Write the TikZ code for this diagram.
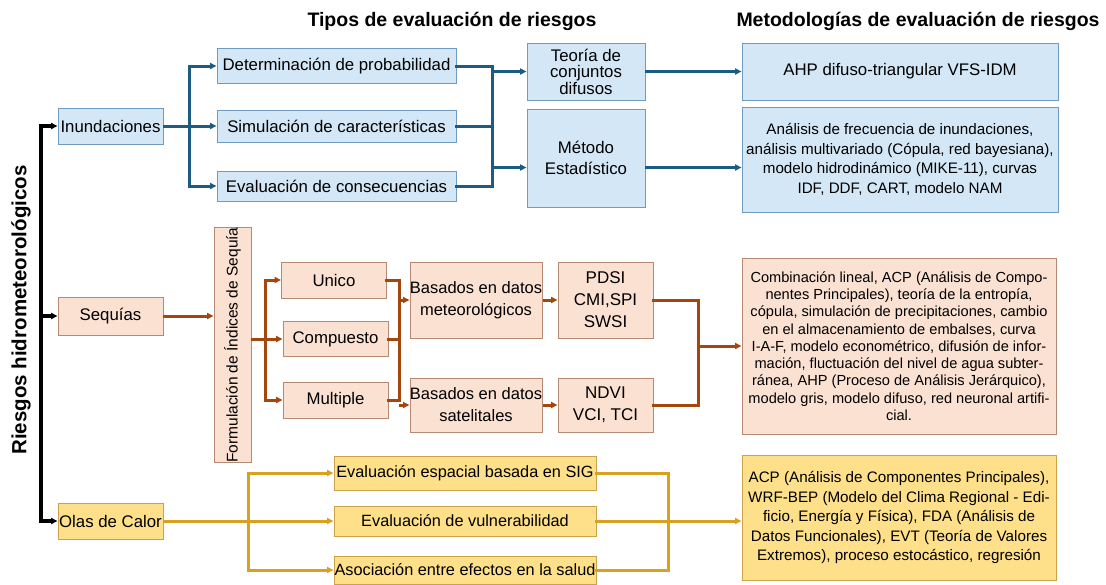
\documentclass[tikz,border=0pt]{standalone}
\usepackage{fontspec}
\setmainfont{Liberation Sans}
\usetikzlibrary{arrows.meta,positioning}
\definecolor{floodfill}{HTML}{D4E7F6}
\definecolor{floodedge}{HTML}{6F9BC0}
\definecolor{floodline}{HTML}{1D5A84}
\definecolor{droughtfill}{HTML}{FBE1D2}
\definecolor{droughtedge}{HTML}{B68A72}
\definecolor{droughtline}{HTML}{A4470F}
\definecolor{heatfill}{HTML}{FDE089}
\definecolor{heatedge}{HTML}{C9A24A}
\definecolor{heatline}{HTML}{D9A11E}
\newcommand\mainfont{\fontsize{16.8}{19}\selectfont}
\newcommand\smallfont{\fontsize{15.2}{19.5}\selectfont}
\tikzset{
  box/.style={draw, line width=0.9pt, inner sep=1pt, align=center, font=\mainfont},
  floodbox/.style={box, fill=floodfill, draw=floodedge},
  droughtbox/.style={box, fill=droughtfill, draw=droughtedge},
  heatbox/.style={box, fill=heatfill, draw=heatedge},
  conn/.style={line width=3pt, line cap=rect},
  arr/.style={-{Triangle[length=6.5pt,width=6pt]}, line cap=butt},
  title/.style={font=\fontsize{19.5}{22}\selectfont\bfseries}
}
\begin{document}
\begin{tikzpicture}[x=1pt,y=-1pt]
\useasboundingbox (0,0) rectangle (1106,584);
\node[title] (t1) at (452,21) {Tipos de evaluación de riesgos};
\node[title] (t2) at (918,21) {Metodologías de evaluación de riesgos};
\node[rotate=90, font=\fontsize{20.5}{22}\selectfont\bfseries] (riesgos) at (21,310) {Riesgos hidrometeorológicos};

\node[floodbox, minimum width=105pt, minimum height=36pt] (inund) at (110.5,126) {Inundaciones};
\node[floodbox, minimum width=239pt, minimum height=35pt] (det) at (336.5,66) {Determinación de probabilidad};
\node[floodbox, minimum width=239pt, minimum height=32pt] (sim) at (336.5,126) {Simulación de características};
\node[floodbox, minimum width=239pt, minimum height=30pt] (cons) at (336.5,186) {Evaluación de consecuencias};
\node[floodbox, minimum width=118pt, minimum height=57pt, font=\fontsize{16.8}{16.5}\selectfont] (teo) at (586,71.5) {Teoría de\\conjuntos\\difusos};
\node[floodbox, minimum width=118pt, minimum height=98pt, font=\fontsize{16.8}{20.5}\selectfont] (met) at (586,158) {Método\\Estadístico};
\node[floodbox, minimum width=316pt, minimum height=57pt] (ahp) at (900,71.5) {AHP difuso-triangular VFS-IDM};
\node[floodbox, minimum width=316pt, minimum height=105pt, font=\smallfont] (stat) at (900,159.5) {Análisis de frecuencia de inundaciones,\\análisis multivariado (Cópula, red bayesiana),\\modelo hidrodinámico (MIKE-11), curvas\\IDF, DDF, CART, modelo NAM};

\node[droughtbox, minimum width=105pt, minimum height=38pt] (seq) at (110.5,316) {Sequías};
\node[droughtbox, minimum width=37pt, minimum height=226pt, inner sep=0pt] (form) at (232.5,345) {\rotatebox{90}{\fontsize{15.5}{15}\selectfont Formulación de Índices de Sequía}};
\node[droughtbox, minimum width=105pt, minimum height=36pt] (uni) at (334,280) {Unico};
\node[droughtbox, minimum width=105pt, minimum height=35pt] (comp) at (335.5,339) {Compuesto};
\node[droughtbox, minimum width=105pt, minimum height=36pt] (mult) at (335.5,400) {Multiple};
\node[droughtbox, minimum width=132pt, minimum height=76pt, inner sep=0pt, font=\fontsize{16.5}{22}\selectfont] (meteo) at (476,300) {Basados en datos\\meteorológicos};
\node[droughtbox, minimum width=132pt, minimum height=54pt, inner sep=0pt, font=\fontsize{16.5}{22}\selectfont] (sat) at (476,405) {Basados en datos\\satelitales};
\node[droughtbox, minimum width=95pt, minimum height=76pt, font=\fontsize{17}{22}\selectfont] (pdsi) at (605.5,300) {PDSI\\CMI,SPI\\SWSI};
\node[droughtbox, minimum width=95pt, minimum height=54pt, font=\fontsize{17}{22}\selectfont] (ndvi) at (605.5,405) {NDVI\\VCI, TCI};
\node[droughtbox, minimum width=314pt, minimum height=176pt, font=\fontsize{14.6}{17.3}\selectfont] (ind) at (899,346) {Combinación lineal, ACP (Análisis de Compo-\\nentes Principales), teoría de la entropía,\\cópula, simulación de precipitaciones, cambio\\en el almacenamiento de embalses, curva\\I-A-F, modelo econométrico, difusión de infor-\\mación, fluctuación del nivel de agua subter-\\ránea, AHP (Proceso de Análisis Jerárquico),\\modelo gris, modelo difuso, red neuronal artifi-\\cial.};

\node[heatbox, minimum width=105pt, minimum height=36pt] (olas) at (110.5,521) {Olas de Calor};
\node[heatbox, minimum width=262pt, minimum height=34pt, inner xsep=0pt, font=\fontsize{16.3}{19}\selectfont] (esp) at (465,473) {Evaluación espacial basada en SIG};
\node[heatbox, minimum width=262pt, minimum height=30pt, inner xsep=0pt, font=\fontsize{16.3}{19}\selectfont] (vul) at (465,521) {Evaluación de vulnerabilidad};
\node[heatbox, minimum width=262pt, minimum height=28pt, inner xsep=0pt, font=\fontsize{16.3}{19}\selectfont] (aso) at (465,570) {Asociación entre efectos en la salud};
\node[heatbox, minimum width=314pt, minimum height=125pt, font=\smallfont] (heat) at (899,517.5) {ACP (Análisis de Componentes Principales),\\WRF-BEP (Modelo del Clima Regional - Edi-\\ficio, Energía y Física), FDA (Análisis de\\Datos Funcionales), EVT (Teoría de Valores\\Extremos), proceso estocástico, regresión};

\coordinate (rj) at (41,316);
\coordinate (fj1) at (189,126);
\coordinate (fj2) at (492,126);
\coordinate (metin) at ([yshift=-9.5pt]met.west);
\coordinate (metout) at ([yshift=-9.5pt]met.east);
\coordinate (dj1) at (265,339);
\coordinate (dj2) at (399,339);
\coordinate (dj3) at (698,346);
\coordinate (gj1) at (248,521);
\coordinate (gj2) at (668,521);

\draw[conn, line width=3.4pt] (rj |- inund.west) -- (rj |- olas.west);
\draw[conn, arr, line width=3.4pt] (rj |- inund.west) -- (inund.west);
\draw[conn, arr, line width=3.4pt] (rj |- seq.west) -- (seq.west);
\draw[conn, arr, line width=3.4pt] (rj |- olas.west) -- (olas.west);

\draw[conn, floodline] (fj1 |- det.west) -- (fj1 |- cons.west);
\draw[conn, floodline, arr] (inund.east) -- (sim.west);
\draw[conn, floodline, arr] (fj1 |- det.west) -- (det.west);
\draw[conn, floodline, arr] (fj1 |- cons.west) -- (cons.west);
\draw[conn, floodline] (det.east) -| (fj2) |- (cons.east);
\draw[conn, floodline] (sim.east) -- (fj2);
\draw[conn, floodline, arr] (fj2 |- teo.west) -- (teo.west);
\draw[conn, floodline, arr] (fj2 |- metin) -- (metin);
\draw[conn, floodline, arr] (teo.east) -- (ahp.west);
\draw[conn, floodline, arr] (metout) -- (metout -| stat.west);

\draw[conn, droughtline, arr] (seq.east) -- (seq.east -| form.west);
\draw[conn, droughtline] (dj1 |- uni.west) -- (dj1 |- mult.west);
\draw[conn, droughtline, arr] (form.east |- comp.west) -- (comp.west);
\draw[conn, droughtline, arr] (dj1 |- uni.west) -- (uni.west);
\draw[conn, droughtline, arr] (dj1 |- mult.west) -- (mult.west);
\draw[conn, droughtline] (uni.east) -| (dj2) |- (mult.east);
\draw[conn, droughtline] (comp.east) -- (dj2);
\draw[conn, droughtline, arr] (dj2 |- meteo.west) -- (meteo.west);
\draw[conn, droughtline, arr] (dj2 |- sat.west) -- (sat.west);
\draw[conn, droughtline, arr] (meteo.east) -- (pdsi.west);
\draw[conn, droughtline, arr] (sat.east) -- (ndvi.west);
\draw[conn, droughtline] (pdsi.east) -| (dj3) |- (ndvi.east);
\draw[conn, droughtline, arr] (dj3) -- (dj3 -| ind.west);

\draw[conn, heatline] (gj1 |- esp.west) -- (gj1 |- aso.west);
\draw[conn, heatline, arr] (olas.east) -- (vul.west);
\draw[conn, heatline, arr] (gj1 |- esp.west) -- (esp.west);
\draw[conn, heatline, arr] (gj1 |- aso.west) -- (aso.west);
\draw[conn, heatline] (esp.east) -| (gj2) |- (aso.east);
\draw[conn, heatline] (vul.east) -- (gj2);
\draw[conn, heatline, arr] (gj2) -- (gj2 -| heat.west);
\end{tikzpicture}
\end{document}
